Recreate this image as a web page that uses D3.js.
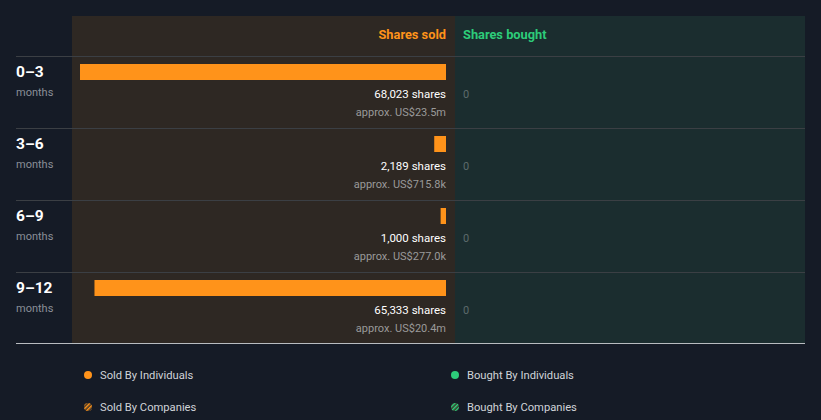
<!DOCTYPE html>
<html><head><meta charset="utf-8">
<script src="https://cdn.jsdelivr.net/npm/d3@7"></script>
<style>body{margin:0;background:#151b26;}svg{display:block;font-family:Roboto,sans-serif;}</style>
</head><body><svg id="c" width="821" height="420"></svg>
<script>
const periods = ["0–3", "3–6", "6–9", "9–12"];
const periodUnit = "months";
const soldShares = [68023, 2189, 1000, 65333];
const soldValue = ["US$23.5m", "US$715.8k", "US$277.0k", "US$20.4m"];
const boughtShares = [0, 0, 0, 0];
const legendItems = ["Sold By Individuals", "Bought By Individuals", "Sold By Companies", "Bought By Companies"];

(function(){
const svg = d3.select("#c");
const orange = "#ff931a", green = "#2dcc7a";
const defs = svg.append("defs");
function hatch(id, col){
  const p = defs.append("pattern").attr("id", id).attr("patternUnits","userSpaceOnUse")
    .attr("width",3).attr("height",3).attr("patternTransform","rotate(45)");
  p.append("rect").attr("width",3).attr("height",3).attr("fill","#3a3228");
  p.append("rect").attr("width",1.5).attr("height",3).attr("fill",col);
}
hatch("hs", orange); hatch("hb", green);

const topY = 16, headerH = 40, rowH = 72;
const soldX0 = 72, mid = 455, right = 805;
svg.append("rect").attr("x",soldX0).attr("y",topY).attr("width",mid-soldX0).attr("height",343-topY).attr("fill","#2e2823");
svg.append("rect").attr("x",mid).attr("y",topY).attr("width",right-mid).attr("height",343-topY).attr("fill","#1b2d2f");

const y = d3.scaleBand().domain(periods).range([topY+headerH, topY+headerH+rowH*periods.length]);
const x = d3.scaleLinear().domain([0, d3.max(soldShares)]).range([0, 366]);
const barRight = 446;

svg.append("text").attr("x",barRight).attr("y",39).attr("text-anchor","end").attr("fill",orange)
  .attr("font-size",12.8).attr("font-weight",700).text("Shares sold");
svg.append("text").attr("x",463).attr("y",39).attr("fill",green)
  .attr("font-size",12.8).attr("font-weight",700).text("Shares bought");

const g = svg.selectAll("g.row").data(periods).enter().append("g").attr("class","row")
  .attr("transform", d => `translate(0,${y(d)})`);
g.append("line").attr("x1",16).attr("x2",right).attr("y1",0.5).attr("y2",0.5).attr("stroke","#3b3f44");
g.append("text").attr("x",16).attr("y",21).attr("fill","#fff").attr("font-size",15.5).attr("font-weight",700).text(d=>d);
g.append("text").attr("x",16).attr("y",40).attr("fill","#8a8f98").attr("font-size",11).text(periodUnit);
g.append("rect").attr("x",(d,i)=>barRight - x(soldShares[i])).attr("y",8).attr("height",16)
  .attr("width",(d,i)=>x(soldShares[i])).attr("fill",orange);
g.append("text").attr("x",barRight).attr("y",42).attr("text-anchor","end").attr("fill","#fff")
  .attr("font-size",11.5).text((d,i)=>d3.format(",")(soldShares[i])+" shares");
g.append("text").attr("x",barRight).attr("y",60).attr("text-anchor","end").attr("fill","#9a9a9a")
  .attr("font-size",11).text((d,i)=>"approx. "+soldValue[i]);
g.append("text").attr("x",463).attr("y",42).attr("fill","#5d6a6c").attr("font-size",11).text((d,i)=>boughtShares[i]);

svg.append("line").attr("x1",16).attr("x2",right).attr("y1",343.5).attr("y2",343.5).attr("stroke","#b8bcc0");

const leg = [{x:88,y:375,fill:orange},{x:455,y:375,fill:green},{x:88,y:407,fill:"url(#hs)"},{x:455,y:407,fill:"url(#hb)"}];
leg.forEach((l,i)=>{
  svg.append("circle").attr("cx",l.x).attr("cy",l.y).attr("r",4).attr("fill",l.fill);
  svg.append("text").attr("x",l.x+12).attr("y",l.y+4).attr("fill","#d0d3d8").attr("font-size",11.2).text(legendItems[i]);
});
})();
</script></body></html>
